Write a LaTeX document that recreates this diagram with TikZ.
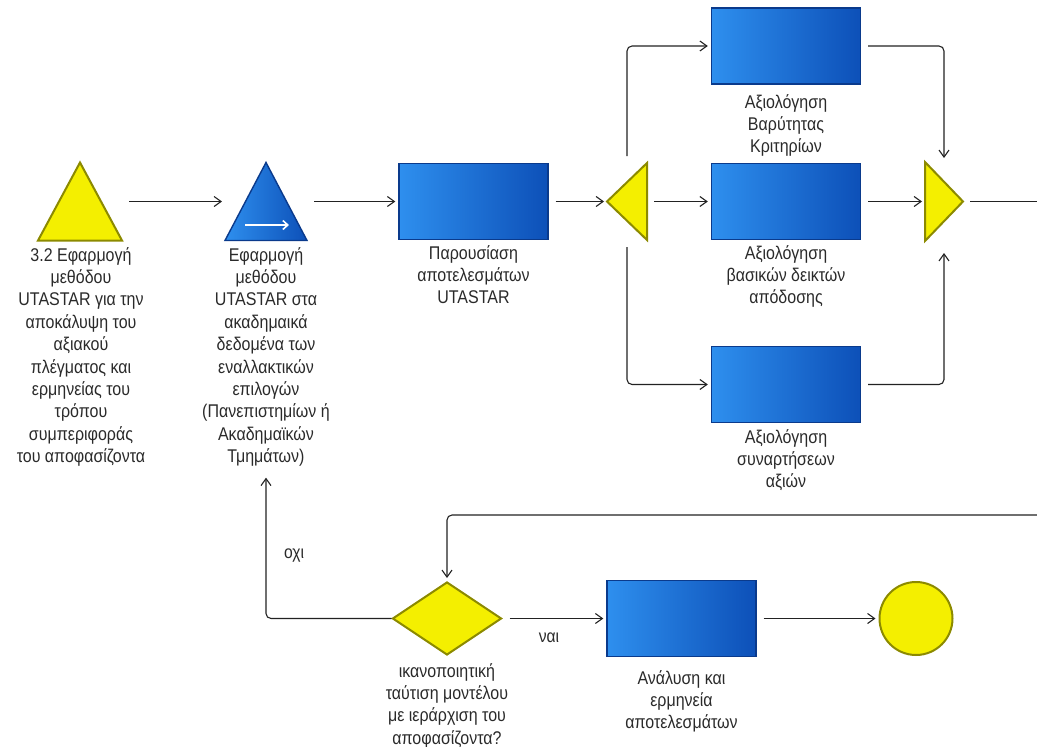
\documentclass[tikz,border=0pt]{standalone}
\usepackage{fontspec}
\setmainfont{Liberation Sans}[FakeStretch=0.87]
\usetikzlibrary{arrows.meta,shapes.geometric}

\definecolor{boxlight}{HTML}{2E8FEE}
\definecolor{boxdark}{HTML}{0D50B8}
\definecolor{boxedge}{HTML}{0A3A8C}
\definecolor{yfill}{HTML}{F4EF00}
\definecolor{yedge}{HTML}{8C8A00}
\definecolor{ink}{HTML}{2A2A2A}
\definecolor{wire}{HTML}{222222}

\begin{document}
\begin{tikzpicture}[x=1pt,y=-1pt,
  task/.style={draw=boxedge, line width=1.4pt, left color=boxlight, right color=boxdark,
    minimum width=149pt, minimum height=76pt, inner sep=0pt},
  frame/.style={inner sep=0pt, outer sep=0pt},
  yshape/.style={fill=yfill, draw=yedge, line width=2pt, line join=miter},
  bshape/.style={draw=boxedge, line width=1.4pt, left color=boxlight, right color=boxdark},
  lbl/.style={text=ink, font=\fontsize{18.4}{22.4}\selectfont, align=center, inner sep=0pt, anchor=north},
  tag/.style={text=ink, font=\fontsize{18}{20}\selectfont, inner sep=0pt},
  wire/.style={draw=wire, line width=1.1pt, rounded corners=5pt, shorten <=7pt, shorten >=3pt,
    -{Straight Barb[length=7pt,width=10pt]}},
  plain/.style={draw=wire, line width=1.1pt, rounded corners=5pt, shorten <=7pt}
]
\useasboundingbox (0,0) rectangle (1037,747);

% ---- start, method triangles ----
\node[frame, minimum width=84pt, minimum height=78pt] (t1) at (80,201.5) {};
\draw[yshape] (t1.south west) -- (t1.north) -- (t1.south east) -- cycle;
\node[frame, minimum width=82pt, minimum height=78pt] (t2) at (266,201.5) {};
\draw[bshape] (t2.south west) -- (t2.north) -- (t2.south east) -- cycle;
\node[frame, minimum width=44pt] (t2a) at (267,225) {};
\draw[white, line width=1.6pt, -{Straight Barb[length=5pt,width=9pt]}] (t2a.west) -- (t2a.east);

\node[lbl] (l1) at (81,247) {3.2 Εφαρμογή\\μεθόδου\\UTASTAR για την\\αποκάλυψη του\\αξιακού\\πλέγματος και\\ερμηνείας του\\τρόπου\\συμπεριφοράς\\του αποφασίζοντα};
\node[lbl] (l2) at (266,247) {Εφαρμογή\\μεθόδου\\UTASTAR στα\\ακαδημαικά\\δεδομένα των\\εναλλακτικών\\επιλογών\\(Πανεπιστημίων ή\\Ακαδημαϊκών\\Τμημάτων)};

% ---- results presentation ----
\node[task] (present) at (473.5,201.5) {};
\node[lbl] (lp) at (473.5,245) {Παρουσίαση\\αποτελεσμάτων\\UTASTAR};

% ---- split and merge gates ----
\node[frame, minimum width=40pt, minimum height=77pt] (split) at (627,201.5) {};
\draw[yshape] (split.west) -- (split.north east) -- (split.south east) -- cycle;
\node[frame, minimum width=38pt, minimum height=79pt] (merge) at (944,201.5) {};
\draw[yshape] (merge.north west) -- (merge.east) -- (merge.south west) -- cycle;

% ---- evaluation tasks ----
\node[task] (wts) at (786,46) {};
\node[lbl] (lw) at (786,94) {Αξιολόγηση\\Βαρύτητας\\Κριτηρίων};
\node[task] (kpi) at (786,201.5) {};
\node[lbl] (lk) at (786,245) {Αξιολόγηση\\βασικών δεικτών\\απόδοσης};
\node[task] (vfun) at (786,384.5) {};
\node[lbl] (lv) at (786,429) {Αξιολόγηση\\συναρτήσεων\\αξιών};

% ---- decision, analysis, end ----
\node[diamond, yshape, minimum width=109pt, minimum height=73pt, inner sep=0pt] (dec) at (447,618.5) {};
\node[lbl] (ld) at (447,663) {ικανοποιητική\\ταύτιση μοντέλου\\με ιεράρχιση του\\αποφασίζοντα?};
\node[task] (anal) at (681.5,618.5) {};
\node[lbl] (la) at (681.5,670) {Ανάλυση και\\ερμηνεία\\αποτελεσμάτων};
\node[circle, yshape, minimum size=73pt, inner sep=0pt] (stop) at (916,618.5) {};

\node[tag] (no) at (294,556) {οχι};
\node[tag] (yes) at (549,638) {ναι};

% ---- off-page return line ----
\coordinate (outR) at (1040,201.5);
\coordinate (backR) at (1040,515);

% ---- connectors ----
\draw[wire] (t1.east) -- (t2.west);
\draw[wire] (t2.east) -- (present.west);
\draw[wire] (present.east) -- (split.west);
\draw[wire] (split.north) |- (wts.west);
\draw[wire] (split.east) -- (kpi.west);
\draw[wire] (split.south) |- (vfun.west);
\draw[wire, shorten >=4pt] (wts.east) -| (merge.north);
\draw[wire] (kpi.east) -- (merge.west);
\draw[wire, shorten >=12pt] (vfun.east) -| (merge.south);
\draw[plain] (merge.east) -- (outR);
\draw[wire, shorten <=0pt] (backR) -| (dec.north);
\draw[wire, shorten <=0pt] (dec.west) -| ([yshift=-8pt]l2.south);
\draw[wire] (dec.east) -- (anal.west);
\draw[wire] (anal.east) -- (stop.west);
\end{tikzpicture}
\end{document}
